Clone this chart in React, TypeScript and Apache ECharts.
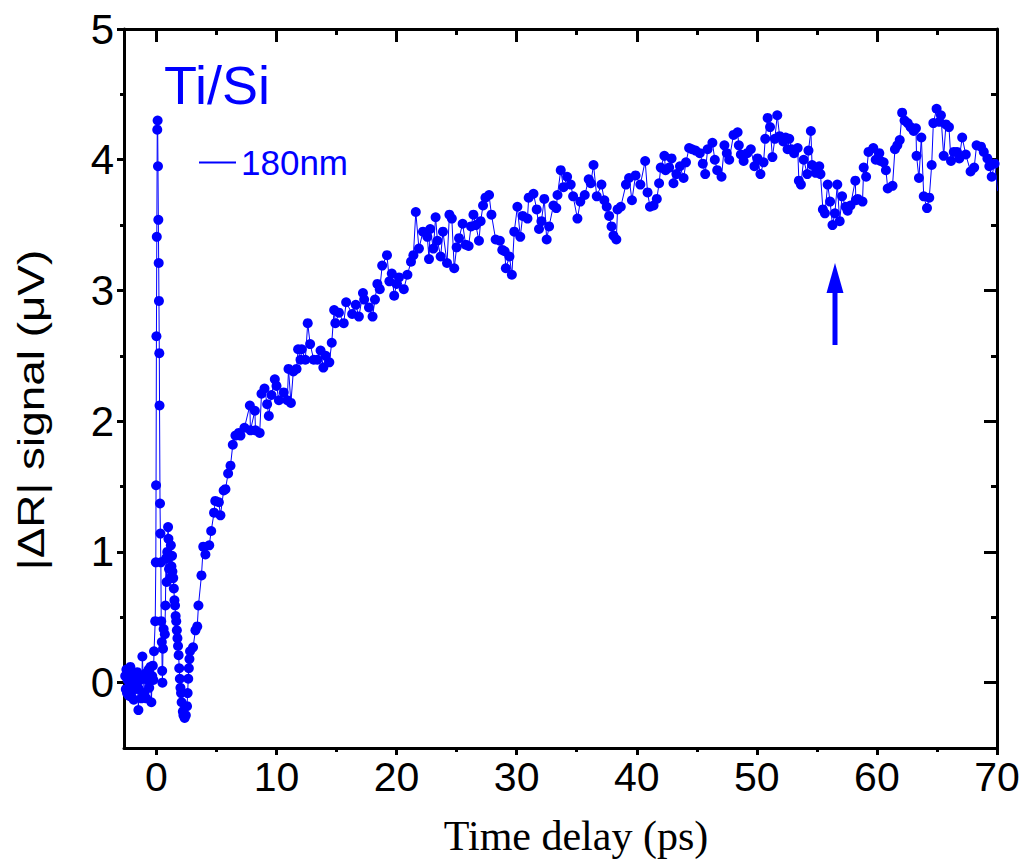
import React, { useEffect, useRef } from "react";
import * as echarts from "echarts";

// ---- Data (time delay in ps, |ΔR| signal in µV) ----
const preZero: number[][] = [
  [-2.6, 0.05], [-2.55, -0.05], [-2.5, 0.1], [-2.45, -0.08], [-2.4, 0.02], [-2.3, -0.1],
  [-2.2, 0.08], [-2.17, 0.12], [-2.1, -0.04], [-2.08, -0.11], [-2.0, 0.03], [-1.95, -0.06],
  [-1.89, -0.13], [-1.8, 0.05], [-1.7, -0.02], [-1.6, 0.08], [-1.5, -0.21], [-1.45, -0.05],
  [-1.35, 0.02], [-1.25, -0.12], [-1.17, 0.2], [-1.1, 0.04], [-1.0, -0.08], [-0.9, 0.07],
  [-0.85, -0.12], [-0.75, 0.02], [-0.65, 0.1], [-0.6, -0.04], [-0.5, 0.12], [-0.42, -0.15],
  [-0.35, 0.05], [-0.3, 0.13], [-0.25, 0.02], [-0.2, 0.24],
];

const spike: number[][] = [
  [-0.1, 0.47], [-0.05, 0.92], [-0.03, 1.51], [0.0, 2.65], [0.03, 3.41], [0.07, 4.23],
  [0.1, 4.3], [0.13, 3.95], [0.16, 3.54], [0.19, 3.21], [0.21, 2.92], [0.24, 2.52],
  [0.26, 2.12], [0.3, 1.37],
];

const dip: number[][] = [
  [0.33, 1.14], [0.37, 0.92], [0.4, 0.47], [0.45, 0.31], [0.48, 0.09], [0.5, 0.0],
  [0.55, 0.26], [0.6, 0.41], [0.7, 0.37], [0.75, 0.59], [0.8, 0.95], [0.85, 0.77],
  [0.9, 1.0], [0.97, 1.19], [1.0, 1.1], [1.05, 0.87], [1.1, 0.97], [1.15, 0.8],
  [1.2, 1.05], [1.25, 0.89], [1.3, 0.97], [1.33, 0.85], [1.4, 0.8], [1.45, 0.72],
  [1.5, 0.63], [1.55, 0.59], [1.6, 0.51], [1.65, 0.47], [1.7, 0.4], [1.75, 0.34],
  [1.8, 0.28], [1.85, 0.21], [1.9, 0.11], [1.95, 0.03], [2.0, -0.04], [2.05, -0.08],
  [2.1, -0.15], [2.2, -0.22], [2.25, -0.25], [2.35, -0.27], [2.45, -0.25], [2.55, -0.18],
  [2.6, -0.08], [2.65, 0.03], [2.7, 0.11], [2.75, 0.18], [2.8, 0.24], [3.05, 0.27],
  [3.25, 0.4], [3.4, 0.43],
];

const rise: number[][] = [
  [3.5, 0.59], [3.75, 0.82], [3.9, 1.04], [4.08, 0.98], [4.4, 1.05], [4.56, 1.16],
  [4.8, 1.3], [4.9, 1.39], [5.2, 1.38], [5.33, 1.28], [5.6, 1.47], [5.75, 1.48],
  [5.97, 1.6], [6.17, 1.66], [6.36, 1.82], [6.58, 1.89], [6.86, 1.91], [7.0, 1.89],
  [7.33, 1.95], [7.78, 2.12], [7.83, 1.93], [8.2, 2.08], [8.25, 1.93], [8.6, 1.91],
  [8.75, 2.21], [9.0, 2.25], [9.22, 2.13], [9.36, 2.04], [9.58, 2.2], [9.86, 2.32],
  [10.0, 2.27], [10.2, 2.16], [10.6, 2.22], [10.9, 2.16], [11.0, 2.4], [11.2, 2.14],
  [11.4, 2.38], [11.67, 2.4], [11.8, 2.55], [12.0, 2.47], [12.1, 2.55], [12.4, 2.47],
  [12.6, 2.75], [12.8, 2.59], [13.1, 2.47], [13.4, 2.47], [13.67, 2.54], [13.9, 2.41],
  [14.1, 2.5], [14.4, 2.45], [14.6, 2.6], [14.8, 2.85], [14.9, 2.75], [15.2, 2.83],
  [15.6, 2.75], [15.8, 2.91], [16.3, 2.82], [16.6, 2.89], [16.86, 2.8], [17.2, 2.98],
  [17.3, 2.93], [17.7, 2.87], [18.0, 2.8], [18.2, 2.93], [18.4, 3.05], [18.6, 3.01],
  [18.8, 3.19], [19.2, 3.27], [19.4, 3.07], [19.6, 3.13], [19.8, 2.96],
];

const middle: number[][] = [
  [20.0, 3.05], [20.2, 3.1], [20.6, 3.01], [20.9, 3.12], [21.2, 3.22], [21.4, 3.27],
  [21.6, 3.6], [21.86, 3.32], [22.2, 3.45], [22.56, 3.41], [22.7, 3.24], [22.8, 3.47],
  [23.06, 3.32], [23.25, 3.56], [23.4, 3.38], [23.67, 3.26], [23.86, 3.45], [24.2, 3.21],
  [24.4, 3.58], [24.6, 3.55], [24.8, 3.17], [25.0, 3.33], [25.2, 3.4], [25.5, 3.51],
  [25.75, 3.35], [26.0, 3.34], [26.2, 3.49], [26.4, 3.58], [26.6, 3.5], [26.86, 3.38],
  [27.0, 3.53], [27.2, 3.65], [27.4, 3.71], [27.7, 3.73], [27.9, 3.58], [28.25, 3.39],
  [28.6, 3.38], [28.8, 3.31], [29.0, 3.3], [29.1, 3.17], [29.4, 3.26], [29.6, 3.12],
  [29.8, 3.45], [30.06, 3.64], [30.3, 3.41], [30.5, 3.57], [30.9, 3.55], [31.0, 3.71],
  [31.4, 3.74], [31.67, 3.62], [31.86, 3.47], [32.06, 3.53], [32.3, 3.7], [32.5, 3.39],
  [32.7, 3.49], [33.06, 3.65], [33.3, 3.63], [33.4, 3.73], [33.67, 3.92], [33.9, 3.79],
  [34.2, 3.87], [34.5, 3.81], [34.7, 3.72], [35.06, 3.55], [35.3, 3.68], [35.67, 3.73],
  [36.0, 3.85], [36.17, 3.82], [36.4, 3.96], [36.67, 3.72], [37.06, 3.81], [37.3, 3.69],
  [37.5, 3.64], [37.7, 3.57], [37.9, 3.49], [38.06, 3.42], [38.3, 3.39], [38.4, 3.62],
  [38.67, 3.64], [39.1, 3.81], [39.36, 3.86], [39.6, 3.69], [39.9, 3.88],
];

const plateau: number[][] = [
  [40.3, 3.81], [40.7, 3.99], [40.9, 3.75], [41.1, 3.64], [41.4, 3.65], [41.67, 3.7],
  [41.86, 3.82], [42.0, 3.94], [42.3, 4.03], [42.4, 3.92], [42.7, 3.94], [42.9, 4.01],
  [43.06, 3.82], [43.3, 3.89], [43.6, 3.95], [43.9, 3.86], [44.1, 3.98], [44.36, 4.09],
  [44.6, 4.08], [44.9, 4.07], [45.25, 4.05], [45.5, 3.97], [45.7, 3.89], [45.9, 4.08],
  [46.3, 4.13], [46.5, 4.0], [46.7, 3.92], [47.06, 3.87], [47.3, 4.11], [47.5, 4.05],
  [47.7, 4.0], [48.06, 4.19], [48.4, 4.21], [48.5, 4.11], [48.67, 4.04], [48.9, 3.99],
  [49.2, 4.05], [49.5, 4.08], [49.8, 3.95], [50.06, 4.01], [50.3, 3.89], [50.56, 3.98],
  [50.7, 4.16], [50.9, 4.32], [51.1, 4.25], [51.3, 4.02], [51.5, 4.16], [51.7, 4.34],
  [51.9, 4.18], [52.2, 4.14], [52.4, 4.17], [52.56, 4.08], [52.7, 4.16], [52.9, 4.08],
  [53.1, 4.05], [53.4, 4.09], [53.5, 3.84], [53.67, 3.81], [53.9, 4.0], [54.2, 3.89],
  [54.3, 4.07], [54.5, 4.22], [54.6, 3.96], [54.9, 3.9], [55.2, 3.95], [55.3, 3.89],
  [55.5, 3.62], [55.67, 3.59], [55.9, 3.81], [56.1, 3.68], [56.3, 3.5], [56.5, 3.59],
  [56.7, 3.81], [56.9, 3.53], [57.1, 3.72], [57.4, 3.64], [57.56, 3.61], [57.8, 3.65],
  [58.2, 3.84], [58.25, 3.69], [58.4, 3.7], [58.8, 3.68], [58.9, 3.94], [59.1, 3.87],
  [59.3, 4.06], [59.7, 4.09], [59.9, 4.0], [60.2, 4.05], [60.3, 3.99], [60.56, 3.98],
  [60.75, 3.92], [60.9, 3.78], [61.3, 3.8], [61.5, 4.08], [61.7, 4.11], [61.9, 4.15],
  [62.1, 4.36], [62.3, 4.3], [62.56, 4.28], [62.8, 4.25], [63.06, 4.22], [63.25, 4.24],
  [63.3, 4.03], [63.5, 3.86], [63.7, 4.17], [63.9, 3.72], [64.17, 3.63], [64.36, 3.71],
  [64.56, 3.96], [64.7, 4.28], [64.97, 4.39], [65.2, 4.29], [65.33, 4.34], [65.56, 4.03],
  [65.75, 4.27], [66.0, 4.25], [66.17, 3.99], [66.4, 4.06], [66.67, 4.06], [66.86, 4.01],
  [67.1, 4.17], [67.4, 4.04], [67.8, 3.91], [68.1, 3.94], [68.3, 4.11], [68.67, 4.1],
  [68.9, 4.06], [69.2, 4.01], [69.36, 3.95], [69.56, 3.87], [69.8, 3.97], [70.06, 3.76],
];

const xMajorTicks = [0, 10, 20, 30, 40, 50, 60, 70];
const xMinorTicks = [5, 15, 25, 35, 45, 55, 65];
const yMajorTicks = [0, 1, 2, 3, 4, 5];
const yMinorTicks = [0.5, 1.5, 2.5, 3.5, 4.5];

const seriesName = "180nm";
const sampleLabel = "Ti/Si";
const xTitle = "Time delay (ps)";
const yTitle = "|ΔR| signal (μV)";

const BLUE = "#0000ff";
const SANS = "'Liberation Sans', Arial, sans-serif";

export default function App() {
  const ref = useRef<HTMLDivElement>(null);

  useEffect(() => {
    if (!ref.current) return;
    const chart = echarts.init(ref.current, undefined, { renderer: "svg" });
    const data = [...preZero, ...spike, ...dip, ...rise, ...middle, ...plateau];

    const frameLine = { show: true, onZero: false, lineStyle: { color: "#000", width: 3 } };
    const noLine = { show: false, onZero: false };
    const tickStyle = { width: 3, color: "#000" };
    const xBase = { type: "value", min: -2.7, max: 70, splitLine: { show: false }, gridIndex: 0 };
    const yBase = { type: "value", min: -0.5, max: 5, splitLine: { show: false }, gridIndex: 0 };

    const option: any = {
      animation: false,
      backgroundColor: "#fff",
      grid: { left: 124, right: 27, top: 29, bottom: 111, containLabel: false },
      legend: {
        show: true,
        left: 194,
        top: 140,
        icon: "rect",
        itemWidth: 37,
        itemHeight: 2,
        itemGap: 4,
        data: [{ name: seriesName }],
        textStyle: { color: BLUE, fontSize: 35, fontFamily: SANS },
      },
      xAxis: [
        {
          ...xBase,
          position: "bottom",
          axisLine: frameLine,
          axisTick: { show: true, inside: false, length: 7, customValues: xMajorTicks, lineStyle: tickStyle },
          axisLabel: { show: true, customValues: xMajorTicks, fontSize: 41, fontFamily: SANS, color: "#000", margin: 8 },
        },
        {
          ...xBase,
          position: "bottom",
          axisLine: noLine,
          axisTick: { show: true, inside: false, length: 4, customValues: xMinorTicks, lineStyle: tickStyle },
          axisLabel: { show: false },
        },
        {
          ...xBase,
          position: "top",
          axisLine: frameLine,
          axisTick: { show: true, inside: true, length: 13, customValues: xMajorTicks, lineStyle: tickStyle },
          axisLabel: { show: false },
        },
        {
          ...xBase,
          position: "top",
          axisLine: noLine,
          axisTick: { show: true, inside: true, length: 6, customValues: xMinorTicks, lineStyle: tickStyle },
          axisLabel: { show: false },
        },
      ],
      yAxis: [
        {
          ...yBase,
          position: "left",
          axisLine: frameLine,
          axisTick: { show: true, inside: false, length: 7, customValues: yMajorTicks, lineStyle: tickStyle },
          axisLabel: { show: true, customValues: yMajorTicks, fontSize: 42, fontFamily: SANS, color: "#000", margin: 10 },
        },
        {
          ...yBase,
          position: "left",
          axisLine: noLine,
          axisTick: { show: true, inside: false, length: 4, customValues: yMinorTicks, lineStyle: tickStyle },
          axisLabel: { show: false },
        },
        {
          ...yBase,
          position: "right",
          axisLine: frameLine,
          axisTick: { show: true, inside: true, length: 13, customValues: yMajorTicks, lineStyle: tickStyle },
          axisLabel: { show: false },
        },
        {
          ...yBase,
          position: "right",
          axisLine: noLine,
          axisTick: { show: true, inside: true, length: 6, customValues: yMinorTicks, lineStyle: tickStyle },
          axisLabel: { show: false },
        },
      ],
      series: [
        {
          name: seriesName,
          type: "line",
          xAxisIndex: 0,
          yAxisIndex: 0,
          data,
          symbol: "circle",
          symbolSize: 10,
          showSymbol: true,
          clip: true,
          itemStyle: { color: BLUE },
          lineStyle: { color: BLUE, width: 1 },
          emphasis: { disabled: true },
        },
      ],
      graphic: [
        {
          type: "text",
          x: 164,
          y: 85,
          style: { text: sampleLabel, fill: BLUE, fontSize: 54, fontFamily: SANS, textAlign: "left", textVerticalAlign: "middle" },
        },
        {
          type: "text",
          x: 31,
          y: 410,
          rotation: Math.PI / 2,
          scaleX: 1.24,
          style: { text: yTitle, fill: "#000", fontSize: 37, fontFamily: SANS, textAlign: "center", textVerticalAlign: "middle" },
        },
        {
          type: "text",
          x: 576,
          y: 836,
          style: { text: xTitle, fill: "#000", fontSize: 42, fontFamily: "'Liberation Serif', 'Times New Roman', serif", textAlign: "center", textVerticalAlign: "middle" },
        },
        {
          type: "polygon",
          shape: { points: [[835, 263], [826.5, 293], [843.5, 293]] },
          style: { fill: BLUE },
        },
        {
          type: "rect",
          shape: { x: 832.5, y: 292, width: 5, height: 53 },
          style: { fill: BLUE },
        },
      ],
    };

    chart.setOption(option);
    return () => chart.dispose();
  }, []);

  return (
    <div
      ref={ref}
      style={{ position: "absolute", left: 0, top: 0, width: 1024, height: 859, background: "#fff" }}
    />
  );
}
